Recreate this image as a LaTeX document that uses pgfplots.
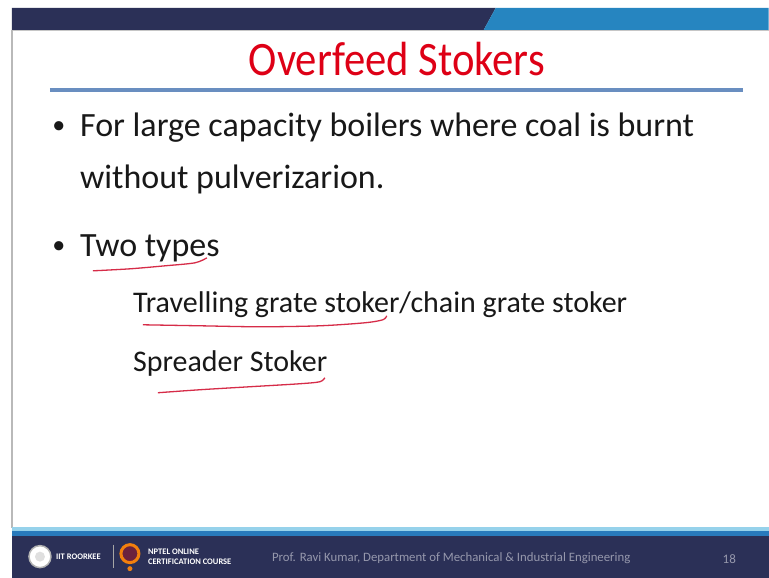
\documentclass[border=0pt]{standalone}
\usepackage{pgfplots}
\pgfplotsset{compat=1.18}
\usepackage{graphicx}
\usepackage{fontspec}
\setmainfont{Carlito}
\definecolor{navy}{RGB}{43,48,87}
\definecolor{sblue}{RGB}{38,133,192}
\definecolor{tred}{RGB}{222,0,22}
\definecolor{ink}{RGB}{24,24,24}
\definecolor{pen}{RGB}{214,44,72}
\definecolor{foot}{RGB}{150,152,172}
\definecolor{rulec}{RGB}{105,142,192}
\definecolor{lcyan}{RGB}{150,210,235}
\definecolor{mblue}{RGB}{40,122,188}
\begin{document}
\begin{tikzpicture}
\begin{axis}[width=769pt,height=578pt,scale only axis,
  xmin=0,xmax=769,ymin=0,ymax=578,y dir=reverse,
  hide axis,clip=false]
% background
\addplot[fill=white,draw=none] coordinates {(0,0)(769,0)(769,578)(0,578)} -- cycle;
% top bar
\addplot[fill=navy,draw=none] coordinates {(12,8)(496,8)(484,30)(12,30)} -- cycle;
\addplot[fill=sblue,draw=none] coordinates {(496,8)(769,8)(769,30)(484,30)} -- cycle;
\addplot[draw=gray!45,line width=1pt] coordinates {(12,30.5)(769,30.5)};
% left grey line
\addplot[draw=gray!55,line width=1.5pt] coordinates {(12,30)(12,528)};
% title
\node[anchor=base,text=tred,font=\fontsize{48}{48}\selectfont,inner sep=0pt] at (axis cs:397,76) {\scalebox{0.89}[1]{Overfeed Stokers}};
\addplot[draw=rulec,line width=4pt] coordinates {(50,90)(743,90)};
% bullets
\node[anchor=base,text=ink,font=\fontsize{26}{26}\selectfont] at (axis cs:59,134) {•};
\node[anchor=base west,text=ink,font=\fontsize{34}{34}\selectfont,inner sep=0pt] at (axis cs:80,137) {For large capacity boilers where coal is burnt};
\node[anchor=base west,text=ink,font=\fontsize{34}{34}\selectfont,inner sep=0pt] at (axis cs:80,189) {without pulverizarion.};
\node[anchor=base,text=ink,font=\fontsize{26}{26}\selectfont] at (axis cs:59,254) {•};
\node[anchor=base west,text=ink,font=\fontsize{34}{34}\selectfont,inner sep=0pt] at (axis cs:80,257) {Two types};
\node[anchor=base west,text=ink,font=\fontsize{30}{30}\selectfont,inner sep=0pt] at (axis cs:133,313) {Travelling grate stoker/chain grate stoker};
\node[anchor=base west,text=ink,font=\fontsize{30}{30}\selectfont,inner sep=0pt] at (axis cs:133,372) {Spreader Stoker};
% pen underlines
\addplot[draw=pen,line width=1.3pt,smooth] coordinates {(93,271)(130,269)(165,266)(195,263)(207,258)};
\addplot[draw=pen,line width=1.3pt,smooth] coordinates {(143,325)(200,326)(260,327)(320,326)(365,323)(383,320)(387,316)};
\addplot[draw=pen,line width=1.3pt,smooth] coordinates {(158,393)(200,390)(250,387)(300,384)(320,382)(325,378)};
% footer
\addplot[fill=lcyan,draw=none] coordinates {(12,527)(769,527)(769,531)(12,531)} -- cycle;
\addplot[fill=mblue,draw=none] coordinates {(12,531)(769,531)(769,536)(12,536)} -- cycle;
\addplot[fill=navy,draw=none] coordinates {(12,536)(769,536)(769,578)(12,578)} -- cycle;
% logos
\draw[fill=white,draw=gray!60,line width=1.5pt] (axis cs:40,557) circle[radius=11pt];
\draw[fill=gray!25,draw=none] (axis cs:40,557) circle[radius=5pt];
\node[anchor=west,text=white,font=\fontsize{8.5}{8.5}\selectfont\bfseries,inner sep=0pt] at (axis cs:56,557) {IIT ROORKEE};
\addplot[draw=gray!70,line width=0.6pt] coordinates {(113,545)(113,568)};
\draw[fill=navy!70!red,draw=orange!80!brown,line width=3pt] (axis cs:130,554) circle[radius=9pt];
\draw[fill=orange!70!brown,draw=none] (axis cs:130,569) circle[radius=2.5pt];
\node[anchor=west,text=white,font=\fontsize{8.5}{9.5}\selectfont\bfseries,inner sep=0pt,align=left] at (axis cs:148,557) {NPTEL ONLINE\\CERTIFICATION COURSE};
\node[anchor=west,text=foot,font=\fontsize{12.8}{13}\selectfont,inner sep=0pt] at (axis cs:272,559) {Prof. Ravi Kumar, Department of Mechanical \& Industrial Engineering};
\node[anchor=west,text=foot,font=\fontsize{13}{13}\selectfont,inner sep=0pt] at (axis cs:723,559) {18};
\end{axis}
\end{tikzpicture}
\end{document}
